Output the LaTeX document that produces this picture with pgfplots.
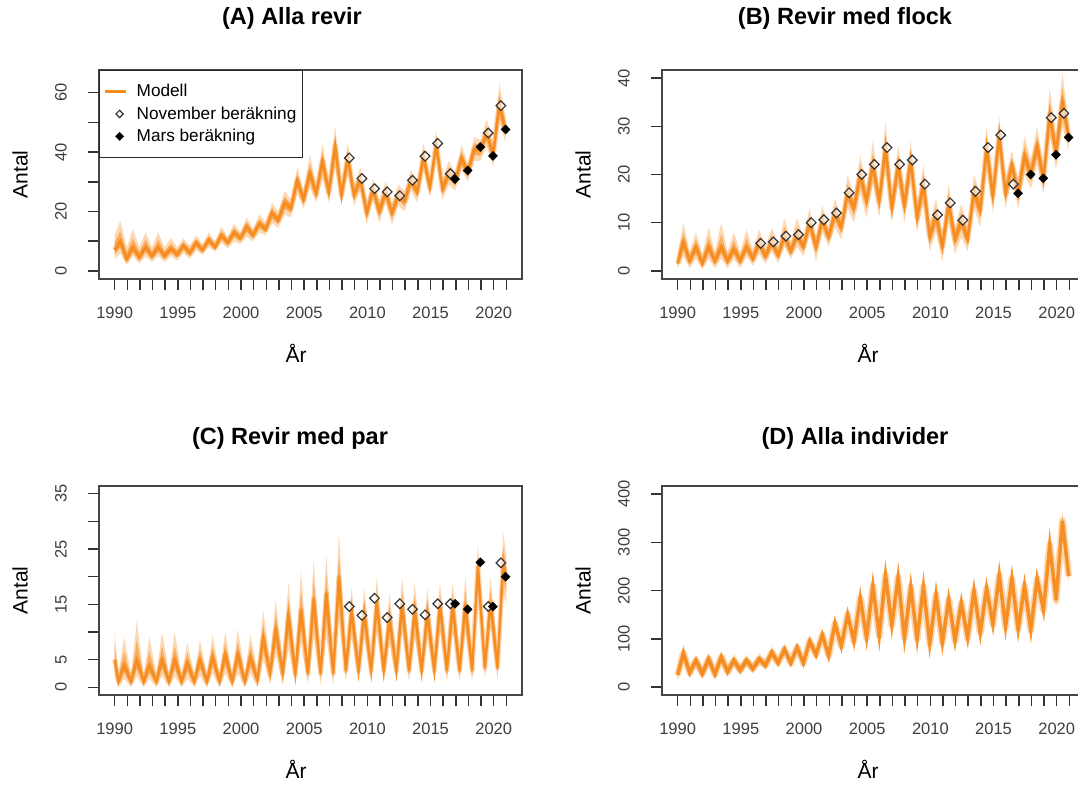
\documentclass[border=0pt]{standalone}
\usepackage{fontspec}
\setmainfont{Liberation Sans}
\usepackage{pgfplots}
\usepackage{pgfplotstable}
\pgfplotsset{compat=1.18}

\definecolor{wolf}{RGB}{246,138,28}
\definecolor{tickgrey}{RGB}{62,62,62}
\definecolor{framegrey}{RGB}{70,70,70}

\newcommand{\tickfont}{\fontsize{16.5}{18}\selectfont}
\newcommand{\labfont}{\fontsize{21}{24}\selectfont}
\newcommand{\legfont}{\fontsize{17.2}{20}\selectfont}
\newcommand{\titfont}{\fontsize{23.5}{26}\selectfont\bfseries}

% Model envelopes: t = time, lo/hi = outer range of the simulations, mid = central run
\pgfplotstableread{
t lo mid hi
1990.0  4 7 12
1990.45 6 10 17
1990.95 2 4 8
1991.45 5 8 14
1991.95 2.5 4.5 8
1992.45 5 8 13
1992.95 3 5 8
1993.45 5 8 13
1993.95 3 5 8
1994.45 5 7.5 11
1994.95 3.5 5.5 8
1995.45 6 8.5 11
1995.95 4 6 8.5
1996.45 7 9.5 12
1996.95 5.5 7 9
1997.45 8 10.5 13
1997.95 6.5 8 10
1998.45 9.5 12 15
1998.95 7.5 9.5 11.5
1999.45 10 13 16
1999.95 9 11 13
2000.45 11.5 15 18
2000.95 10 12 14
2001.45 13 16 19
2001.95 12 14 16.5
2002.45 16 19.5 23
2002.95 14.5 17 20
2003.45 19 23 27
2003.95 18 21 24
2004.45 26 30.5 35
2004.95 21 24 27
2005.45 28 33 39
2005.95 23 26 29
2006.45 31 37 43
2006.95 23 26.5 30
2007.45 35 42 49
2007.95 22 25.5 29
2008.45 33 38 43
2008.95 22 25.5 29
2009.45 27 31 35
2009.95 15.5 19.5 23
2010.45 24 27.5 31
2010.95 16 20 24
2011.45 23 26.5 30
2011.95 15.5 19.5 23
2012.45 22 25.5 29
2012.95 20 23.5 27
2013.45 27 30.5 34
2013.95 23 26.5 30
2014.45 34 38.5 43
2014.95 25 28 31
2015.45 38 42.5 47
2015.95 24 27.5 31
2016.45 29 33 37
2016.95 27 30 33
2017.45 34 38 42.5
2017.95 30 33 36
2018.45 37 41 45
2018.95 37 40.5 44
2019.45 42 46.5 51
2019.95 35 39 43
2020.45 50 56 63
2020.95 43 47 51
}\tabA

\pgfplotstableread{
t lo mid hi
1990.0  0.5 1.5 3.5
1990.45 3 6 10
1990.95 0.5 2 4
1991.45 2.5 5 8
1991.95 0.3 1.5 3.5
1992.45 2.5 5 9
1992.95 0.5 2 4
1993.45 2.5 5 10
1993.95 0.5 2 4
1994.45 2.5 4.5 8
1994.95 0.5 2 4
1995.45 3 5 8.5
1995.95 1 2.5 4.5
1996.45 3.5 5.8 8.5
1996.95 1.5 3 5
1997.45 4 6 9
1997.95 1.5 3.2 5
1998.45 5 7.2 11
1998.95 2.5 4 6
1999.45 5 7.5 11
1999.95 3 5 7
2000.45 7.5 10 13
2000.95 2 5 7
2001.45 8 10.6 13.5
2001.95 5 7 9
2002.45 9 12 15
2002.95 6.5 9 11
2003.45 13 16.2 20
2003.95 10 13 15.5
2004.45 16 20 24
2004.95 11 14.5 17
2005.45 18 22 27
2005.95 11 14.5 17
2006.45 21 25.6 31
2006.95 10 13 16
2007.45 18 22 26
2007.95 10 13.5 17
2008.45 19 23 27
2008.95 8 11 14
2009.45 14 18 22
2009.95 4 7 10
2010.45 8 11.6 15
2010.95 2 5 8
2011.45 10 14 18
2011.95 3.5 6.5 9
2012.45 7 10.5 14
2012.95 4 6.5 9
2013.45 13 16.5 20
2013.95 9 12.5 16
2014.45 21 25.6 30
2014.95 12 15.5 19
2015.45 24 28.2 32
2015.95 13 16 19
2016.45 19 22 25
2016.95 13 16 19
2017.45 20 24 28
2017.95 17 20 23
2018.45 22 26 30
2018.95 16 19 22
2019.45 28 32.5 38
2019.95 21 24.5 28
2020.45 30 35 41
2020.95 25 28 31
}\tabB

\pgfplotstableread{
t lo mid hi
1990.0  2 5 10
1990.3  0 1 2.5
1990.75 1.5 4 9
1991.3  0 1 2.5
1991.75 2 5 12
1992.3  0 1 2.5
1992.75 1.5 4 9
1993.3  0 1 2.5
1993.75 2 5 10
1994.3  0 1 2.5
1994.75 2 5 10
1995.3  0 1 2.5
1995.75 1.5 4.5 8
1996.3  0 1 2.5
1996.75 2 5 8.5
1997.3  0 1 2.5
1997.75 2.5 5.5 9.5
1998.3  0 1 2.5
1998.75 2.5 6 10
1999.3  0 1 2.5
1999.75 2.5 6 10.5
2000.3  0 1 2.5
2000.75 2.5 5.5 9.5
2001.3  0 1.2 3
2001.75 5 9 14
2002.3  0.5 2.5 5
2002.75 6 10.5 16
2003.3  0.5 2.5 5
2003.75 7 13 19
2004.3  0.5 2.5 5
2004.75 8 14 21
2005.3  0.5 2.5 5
2005.75 9 16 23
2006.3  0.5 2.5 5
2006.75 9 17 24
2007.3  0.5 2.5 5
2007.75 12 20 28
2008.3  1 3 6
2008.75 9 14 18
2009.3  1 3 6
2009.75 9 13.5 18
2010.3  1 3 6
2010.75 10 15.5 20
2011.3  1 3 6
2011.75 8 12.5 17
2012.3  1 3 6
2012.75 10 15 20
2013.3  1 3 6
2013.75 9 14 19
2014.3  1 3 6
2014.75 9 13.5 18
2015.3  1 3 6
2015.75 10 15 19
2016.3  1 3 6
2016.75 10 15 19
2017.3  1 3 6
2017.75 10 15 20
2018.3  1 3 6
2018.75 17 22 26
2019.3  1.5 3.5 6.5
2019.75 11 15.5 20
2020.3  1.5 3.5 6.5
2020.75 17 22.5 28
2021.0  15 19.5 24
}\tabC

\pgfplotstableread{
t lo mid hi
1990.0  12 25 38
1990.45 55 70 88
1990.95 18 30 42
1991.45 42 55 68
1991.95 16 28 40
1992.45 45 58 72
1992.95 15 27 39
1993.45 48 62 76
1993.95 20 32 44
1994.45 43 55 68
1994.95 24 35 46
1995.45 44 55 67
1995.95 28 38 48
1996.45 48 58 70
1996.95 35 45 55
1997.45 61 72 84
1997.95 40 50 60
1998.45 67 78 90
1998.95 40 50 60
1999.45 71 82 94
1999.95 40 50 61
2000.45 84 95 108
2000.95 56 67 78
2001.45 96 108 121
2001.95 54 65 77
2002.45 120 132 146
2002.95 74 85 97
2003.45 137 150 164
2003.95 83 95 108
2004.45 172 185 200
2004.95 90 102 115
2005.45 196 210 226
2005.95 94 106 120
2006.45 218 232 248
2006.95 115 128 142
2007.45 214 228 244
2007.95 90 102 116
2008.45 194 208 224
2008.95 88 100 114
2009.45 194 208 224
2009.95 78 90 104
2010.45 178 192 208
2010.95 80 92 106
2011.45 168 182 198
2011.95 84 96 110
2012.45 162 175 190
2012.95 90 102 116
2013.45 186 200 215
2013.95 100 112 126
2014.45 191 205 220
2014.95 117 130 144
2015.45 218 232 248
2015.95 112 125 139
2016.45 211 225 241
2016.95 107 120 134
2017.45 196 210 226
2017.95 105 118 132
2018.45 211 225 241
2018.95 147 160 174
2019.45 280 295 312
2019.95 166 180 195
2020.45 328 345 365
2020.95 215 230 246
}\tabD

% Simulation band built as stacked layers (faint outer range, denser core),
% with the central run drawn as a broad stroke with pointed joins on top.
% #1 table, #2 width of the core stroke, #3 width of its soft halo
\newcommand{\band}[3]{%
  \addplot[draw=none, stack plots=y, forget plot] table[x=t, y=lo] {#1};
  \addplot[draw=none, fill=wolf, fill opacity=0.33, stack plots=y, forget plot]
    table[x=t, y expr=\thisrow{hi}-\thisrow{lo}] {#1} \closedcycle;
  \addplot[draw=none, stack plots=y, forget plot]
    table[x=t, y expr=0.5*\thisrow{lo}+0.5*\thisrow{mid}-\thisrow{hi}] {#1};
  \addplot[draw=none, fill=wolf, fill opacity=0.55, stack plots=y, forget plot]
    table[x=t, y expr=0.5*\thisrow{hi}-0.5*\thisrow{lo}] {#1} \closedcycle;
  \addplot[wolf, line width=#3, opacity=0.33, line join=round, forget plot] table[x=t, y=mid] {#1};
  \addplot[wolf, line width=#2, opacity=0.9, line join=miter, miter limit=10, forget plot] table[x=t, y=mid] {#1};
}

\pgfplotsset{
  panel/.style={
    scale only axis, width=423pt, height=209pt,
    xmin=1988.76, xmax=2022.24,
    axis line style={framegrey, line width=1.4pt},
    tick style={black!80, line width=1.5pt},
    tick align=outside,
    xtick pos=left, ytick pos=left,
    major tick length=11pt, minor tick length=11pt,
    xtick={1990,1995,...,2020},
    xticklabels={1990,1995,2000,2005,2010,2015,2020},
    minor xtick={1990,...,2021},
    xticklabel style={font=\tickfont, text=tickgrey, anchor=center, yshift=-23pt},
    yticklabel style={font=\tickfont, text=tickgrey, anchor=center, xshift=-27pt, rotate=90},
    every axis y label/.style={at={(axis description cs:0,0.5)}, anchor=center, xshift=-79pt, rotate=90, font=\labfont},
    xlabel={År}, ylabel={Antal},
  },
  xlab/.style={every axis x label/.style={at={(axis description cs:#1,0)}, anchor=center, yshift=-74pt, font=\labfont}},
  nov/.style={only marks, mark=square*, mark size=3.4pt,
    mark options={rotate=45, draw=black!80, fill=white, fill opacity=0.6, line width=1.2pt}},
  mars/.style={only marks, mark=square*, mark size=3.2pt,
    mark options={rotate=45, draw=black, fill=black}},
  lineleg/.style={legend image code/.code={\draw[##1] (0pt,0pt) -- (21pt,0pt);}},
  markleg/.style={legend image code/.code={\draw[##1] plot coordinates {(15pt,0pt)};}},
}

\begin{document}
\begin{tikzpicture}

% (A) Alla revir
\begin{axis}[panel, xlab=0.466, at={(99pt,510pt)}, anchor=south west,
  ymin=-2.7, ymax=67.6, ytick={0,10,...,60}, yticklabels={0,,20,,40,,60},
  legend style={at={(0,1)}, anchor=north west, draw=black!85, line width=1pt,
    fill=white, font=\legfont, inner xsep=4pt, inner ysep=12pt, row sep=4.5pt, column sep=8pt},
  legend cell align=left]
\addlegendimage{wolf, line width=2.2pt, lineleg}
\addlegendentry{Modell}
\addlegendimage{nov, mark size=2.6pt, markleg}
\addlegendentry{November beräkning}
\addlegendimage{mars, mark size=2.6pt, markleg}
\addlegendentry{Mars beräkning}
\band{\tabA}{2.6pt}{5.5pt}
\addplot[nov, forget plot] coordinates {(2008.57,38.0) (2009.57,31.1) (2010.57,27.7) (2011.57,26.6)
  (2012.57,25.3) (2013.57,30.5) (2014.57,38.6) (2015.57,42.9) (2016.57,32.7) (2019.57,46.4) (2020.57,55.6)};
\addplot[mars, forget plot] coordinates {(2016.94,30.9) (2017.94,33.8) (2018.94,41.7) (2019.94,38.7) (2020.94,47.6)};
\end{axis}

% (B) Revir med flock
\begin{axis}[panel, xlab=0.487, at={(662pt,510pt)}, anchor=south west,
  ymin=-1.7, ymax=41.7, ytick={0,10,...,40}, yticklabels={0,10,20,30,40}]
\band{\tabB}{2.6pt}{5.5pt}
\addplot[nov] coordinates {(1996.57,5.7) (1997.57,6.0) (1998.57,7.2) (1999.57,7.5) (2000.57,10.0)
  (2001.57,10.6) (2002.57,12.0) (2003.57,16.2) (2004.57,20.0) (2005.57,22.1) (2006.57,25.6)
  (2007.57,22.1) (2008.57,23.0) (2009.57,18.0) (2010.57,11.6) (2011.57,14.1) (2012.57,10.5)
  (2013.57,16.5) (2014.57,25.6) (2015.57,28.2) (2016.57,18.0) (2019.57,31.8) (2020.57,32.7)};
\addplot[mars] coordinates {(2016.94,16.1) (2017.94,20.0) (2018.94,19.2) (2019.94,24.1) (2020.94,27.7)};
\end{axis}

% (C) Revir med par
\begin{axis}[panel, xlab=0.466, at={(99pt,94pt)}, anchor=south west,
  ymin=-1.4, ymax=36.4, ytick={0,5,...,35}, yticklabels={0,5,,15,,25,,35}]
\band{\tabC}{2.4pt}{5pt}
\addplot[nov] coordinates {(2008.57,14.6) (2009.57,13.0) (2010.57,16.1) (2011.57,12.6) (2012.57,15.1)
  (2013.57,14.1) (2014.57,13.1) (2015.57,15.1) (2016.57,15.1) (2019.57,14.6) (2020.57,22.5)};
\addplot[mars] coordinates {(2016.94,15.1) (2017.94,14.1) (2018.94,22.6) (2019.94,14.6) (2020.94,20.0)};
\end{axis}

% (D) Alla individer
\begin{axis}[panel, xlab=0.487, at={(662pt,94pt)}, anchor=south west,
  ymin=-16.5, ymax=417, ytick={0,100,...,400}, yticklabels={0,100,200,300,400}]
\band{\tabD}{3.6pt}{7pt}
\end{axis}

\node[font=\titfont] at (292pt,771pt) {(A) Alla revir};
\node[font=\titfont] at (845pt,771pt) {(B) Revir med flock};
\node[font=\titfont] at (290pt,351pt) {(C) Revir med par};
\node[font=\titfont] at (855pt,351pt) {(D) Alla individer};

\pgfresetboundingbox
\useasboundingbox (0pt,0pt) rectangle (1078pt,789pt);
\end{tikzpicture}
\end{document}
